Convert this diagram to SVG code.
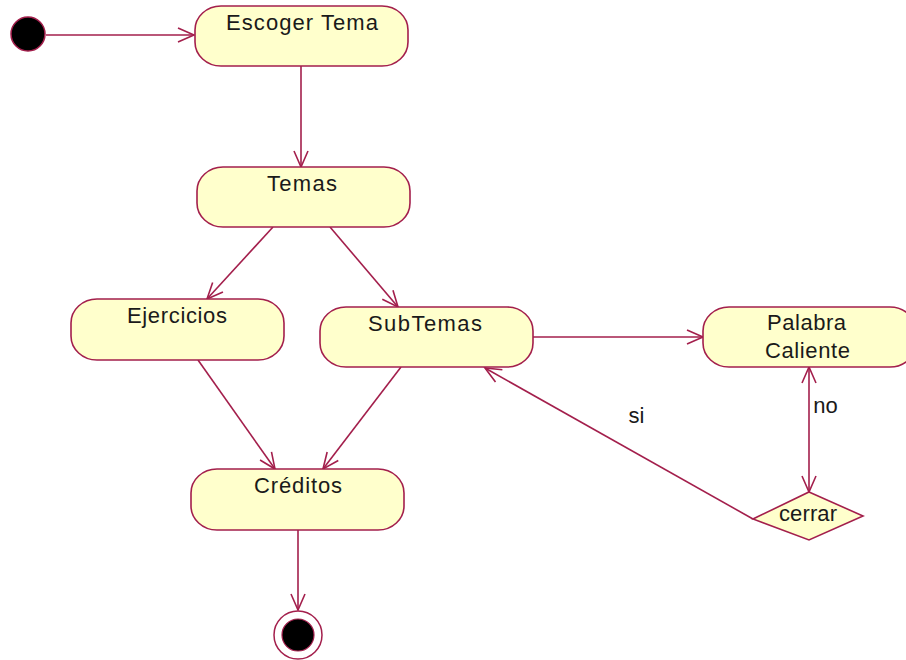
<svg xmlns="http://www.w3.org/2000/svg" width="906" height="660" viewBox="0 0 906 660">
  <style>
    .act { fill: #ffffcc; stroke: #a31f4c; stroke-width: 1.6; }
    .lbl { font-family: "Liberation Sans", Arial, sans-serif; font-size: 22px; fill: #1a1a1a; stroke: none; text-anchor: middle; }
    .edge { fill: none; stroke: #a31f4c; stroke-width: 1.6; }
  </style>
  <defs>
    <marker id="open" markerUnits="userSpaceOnUse" viewBox="-18 -9 20 18" refX="0" refY="0" markerWidth="20" markerHeight="18" orient="auto-start-reverse">
      <path d="M-16,-7 L0,0 L-16,7" fill="none" stroke="#a31f4c" stroke-width="1.6"/>
    </marker>
  </defs>
  <rect width="906" height="660" fill="#ffffff"/>

  <!-- transitions -->
  <g id="connectors">
    <g class="edge" marker-end="url(#open)">
      <line x1="46" y1="35" x2="194" y2="35"/>
      <line x1="301" y1="66" x2="301" y2="167"/>
      <line x1="273" y1="227" x2="207" y2="299"/>
      <line x1="330" y1="227" x2="398" y2="307"/>
      <line x1="198" y1="360" x2="275" y2="469"/>
      <line x1="401" y1="367" x2="323" y2="469"/>
      <line x1="533" y1="337" x2="703" y2="337"/>
      <line x1="809" y1="367" x2="809" y2="492" marker-start="url(#open)"/>
      <line x1="753" y1="519" x2="485" y2="368"/>
      <line x1="298" y1="530" x2="298" y2="610"/>
    </g>
    <text class="lbl" x="636.5" y="423">si</text>
    <text class="lbl" x="825.5" y="413">no</text>
  </g>

  <!-- initial state -->
  <g id="start">
    <circle cx="28" cy="34" r="17" fill="#000000" stroke="#a31f4c" stroke-width="1.5"/>
  </g>

  <g id="escoger-tema">
    <rect class="act" x="195" y="6" width="213" height="60" rx="26" ry="24"/>
    <text class="lbl" x="302" y="30" textLength="152">Escoger Tema</text>
  </g>

  <g id="temas">
    <rect class="act" x="197" y="167" width="213" height="60" rx="26" ry="24"/>
    <text class="lbl" x="302" y="191" textLength="70">Temas</text>
  </g>

  <g id="ejercicios">
    <rect class="act" x="71" y="299" width="213" height="61" rx="26" ry="24"/>
    <text class="lbl" x="177" y="323" textLength="100">Ejercicios</text>
  </g>

  <g id="subtemas">
    <rect class="act" x="320" y="307" width="213" height="60" rx="26" ry="24"/>
    <text class="lbl" x="425" y="331" textLength="114">SubTemas</text>
  </g>

  <g id="palabra-caliente">
    <rect class="act" x="703" y="307" width="213" height="60" rx="26" ry="24"/>
    <text class="lbl" x="806.5" y="330" textLength="79">Palabra</text>
    <text class="lbl" x="807.5" y="358" textLength="85">Caliente</text>
  </g>

  <g id="cerrar">
    <polygon class="act" points="809,492 863,516 809,540 753,519"/>
    <text class="lbl" x="808" y="521" textLength="58">cerrar</text>
  </g>

  <g id="creditos">
    <rect class="act" x="191" y="469" width="213" height="61" rx="26" ry="24"/>
    <text class="lbl" x="298" y="493" textLength="88">Créditos</text>
  </g>

  <!-- final state -->
  <g id="end">
    <circle cx="298" cy="635" r="24" fill="#ffffff" stroke="#a31f4c" stroke-width="1.5"/>
    <circle cx="298" cy="635" r="16" fill="#000000" stroke="#a31f4c" stroke-width="1.2"/>
  </g>
</svg>
